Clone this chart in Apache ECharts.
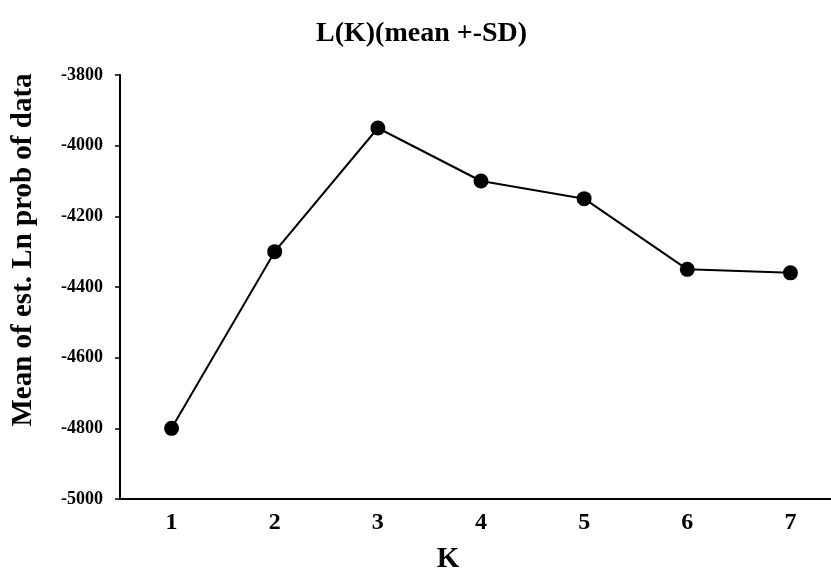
<!DOCTYPE html>
<html>
<head>
<meta charset="utf-8">
<script src="https://cdn.jsdelivr.net/npm/echarts@6/dist/echarts.min.js"></script>
<style>html,body{margin:0;padding:0;background:#fff;}#c{width:831px;height:575px;}</style>
</head>
<body>
<div id="c"></div>
<script>
var categories = ['1', '2', '3', '4', '5', '6', '7'];
var meanLnProb = [-4800, -4300, -3950, -4100, -4150, -4350, -4360];
var yTicks = { min: -5000, max: -3800, interval: 200 };

var font = 'Liberation Serif, Times New Roman, serif';
var chart = echarts.init(document.getElementById('c'));
chart.setOption({
  backgroundColor: '#fff',
  animation: false,
  title: {
    text: 'L(K)(mean +-SD)',
    left: 311, top: 15,
    textStyle: { fontFamily: font, fontWeight: 'bold', fontSize: 28, color: '#000' }
  },
  grid: { left: 120, top: 75, width: 722, height: 424, containLabel: false, outerBoundsMode: 'none' },
  xAxis: {
    type: 'category',
    data: categories,
    boundaryGap: true,
    name: 'K',
    nameLocation: 'middle',
    nameGap: 46,
    nameTextStyle: { fontFamily: font, fontWeight: 'bold', fontSize: 29, color: '#000', padding: [0, 66, 0, 0] },
    axisLine: { lineStyle: { color: '#000', width: 2 } },
    axisTick: { inside: true, length: 5, lineStyle: { color: '#000', width: 1.5 } },
    axisLabel: { margin: 12, fontFamily: font, fontWeight: 'bold', fontSize: 24, color: '#000' },
    splitLine: { show: false }
  },
  yAxis: {
    type: 'value',
    min: yTicks.min, max: yTicks.max, interval: yTicks.interval,
    name: 'Mean of est. Ln prob of data',
    nameLocation: 'middle',
    nameGap: 82,
    nameTextStyle: { fontFamily: font, fontWeight: 'bold', fontSize: 29, color: '#000', padding: [0, 0, 0, 74] },
    axisLine: { show: true, lineStyle: { color: '#000', width: 2 } },
    axisTick: { show: true, inside: false, length: 5, lineStyle: { color: '#000', width: 1.5 } },
    axisLabel: { margin: 17, fontFamily: font, fontWeight: 'bold', fontSize: 18, color: '#000',
      formatter: function (v) { return String(v); } },
    splitLine: { show: false }
  },
  series: [{
    type: 'line',
    data: meanLnProb,
    symbol: 'circle',
    symbolSize: 15,
    lineStyle: { color: '#000', width: 2 },
    itemStyle: { color: '#000' }
  }]
});
</script>
</body>
</html>
